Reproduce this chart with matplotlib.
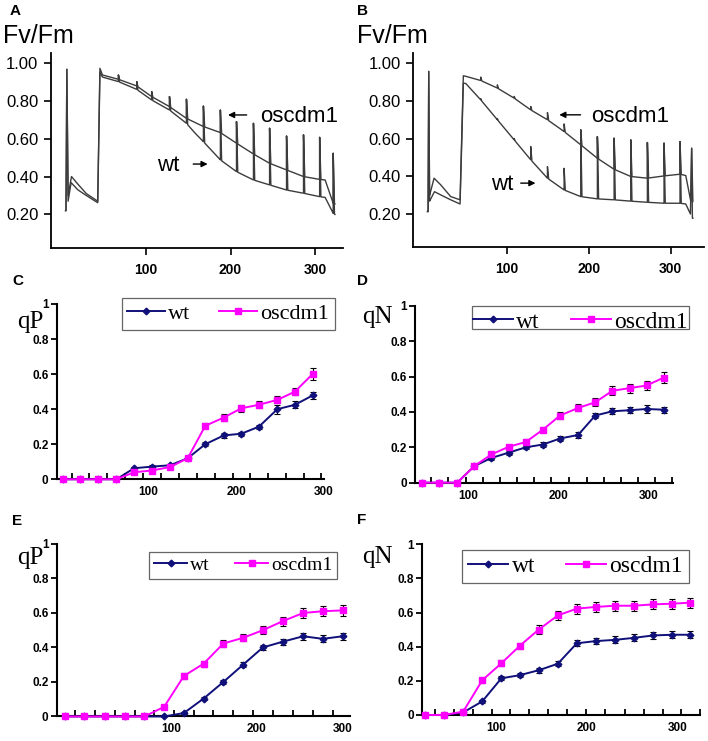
import numpy as np
import matplotlib
matplotlib.use('Agg')
import matplotlib.pyplot as plt
from matplotlib.ticker import FixedLocator

plt.rcParams['font.family'] = ['Liberation Sans', 'DejaVu Sans']
SERIF = ['Liberation Serif', 'DejaVu Serif']
NAVY = '#10107a'
MAG = '#ff00ff'
TRACE = '#3c3c3c'

# ---- Fv/Fm traces, panel A (time, value) ----
a_osc_t = [6, 8.5, 12.5, 20, 30, 43.4, 46, 49, 67.8, 89.4, 107, 128, 148, 168, 188, 207, 227, 246, 266, 286, 305, 311.5, 321, 323]
a_osc_v = [0.22, 0.30, 0.40, 0.36, 0.31, 0.27, 0.971, 0.936, 0.913, 0.878, 0.822, 0.769, 0.707, 0.664, 0.632, 0.576, 0.519, 0.470, 0.435, 0.400, 0.385, 0.382, 0.259, 0.255]
a_wt_t = [6, 8.5, 12, 20, 30, 43.4, 46, 49, 67.8, 89.4, 107, 128, 148, 158, 168, 188, 207, 227, 246, 266, 286, 305, 311.5, 321, 323]
a_wt_v = [0.22, 0.27, 0.368, 0.33, 0.30, 0.262, 0.95, 0.925, 0.901, 0.860, 0.804, 0.751, 0.681, 0.63, 0.584, 0.488, 0.426, 0.382, 0.356, 0.329, 0.312, 0.294, 0.290, 0.206, 0.20]
a_spike_t = [7, 67.8, 89.4, 107, 128, 148, 168, 188, 207, 227, 246, 266, 286, 305, 321]
a_spike_v = [0.966, 0.936, 0.901, 0.848, 0.822, 0.808, 0.772, 0.751, 0.690, 0.681, 0.655, 0.614, 0.620, 0.607, 0.523]

# ---- panel B ----
b_osc_t = [4, 5.8, 11.3, 19.4, 31.6, 43, 47, 50, 68.2, 88.5, 109, 129.2, 149.6, 169.9, 190.2, 210.5, 230.9, 251.2, 271.5, 291.8, 311.3, 318.3, 324.4, 327]
b_osc_v = [0.215, 0.30, 0.391, 0.356, 0.294, 0.277, 0.931, 0.928, 0.906, 0.866, 0.813, 0.751, 0.699, 0.637, 0.567, 0.496, 0.438, 0.400, 0.391, 0.403, 0.412, 0.405, 0.27, 0.268]
b_wt_t = [4, 5.8, 11.8, 19.4, 31.6, 43, 47, 50, 68.2, 88.5, 109, 129.2, 149.6, 169.9, 190.2, 210.5, 230.9, 251.2, 271.5, 291.8, 311.3, 318.3, 326.4]
b_wt_v = [0.215, 0.27, 0.320, 0.303, 0.277, 0.255, 0.892, 0.89, 0.804, 0.699, 0.593, 0.488, 0.391, 0.329, 0.294, 0.282, 0.277, 0.270, 0.264, 0.259, 0.259, 0.255, 0.180]
b_spike_t = [4.8, 68.2, 88.5, 109, 129.2, 149.6, 169.9, 190.2, 210.5, 230.9, 251.2, 271.5, 291.8, 311.3, 325.5]
b_osc_spike_v = [0.954, 0.924, 0.883, 0.822, 0.769, 0.737, 0.677, 0.646, 0.61, 0.602, 0.593, 0.579, 0.576, 0.584, 0.549]
b_wt_spike_v = [0.954, 0.81, 0.705, 0.60, 0.558, 0.452, 0.443, 0.646, 0.61, 0.602, 0.593, 0.579, 0.576, 0.584, 0.549]

# ---- qP / qN curves ----
c_x = [3, 23, 43, 64, 84, 104, 125, 145, 165, 186, 206, 226, 247, 267, 287]
c_wt = [0, 0, 0, 0, 0.063, 0.072, 0.08, 0.12, 0.20, 0.25, 0.26, 0.30, 0.40, 0.425, 0.478]
c_wt_err = [0, 0, 0, 0, 0.008, 0.008, 0.008, 0.01, 0.01, 0.012, 0.012, 0.012, 0.025, 0.02, 0.022]
c_osc = [0, 0, 0, 0, 0.04, 0.05, 0.07, 0.12, 0.305, 0.352, 0.405, 0.425, 0.453, 0.50, 0.60]
c_osc_err = [0, 0, 0, 0, 0.008, 0.008, 0.008, 0.01, 0.015, 0.018, 0.02, 0.02, 0.02, 0.022, 0.032]

d_x = [49, 68, 88, 107, 126, 145, 164, 183, 202, 222, 241, 260, 279, 298, 317]
d_wt = [0, 0, 0, 0.094, 0.14, 0.17, 0.20, 0.216, 0.25, 0.27, 0.38, 0.404, 0.41, 0.417, 0.413]
d_wt_err = [0, 0, 0, 0.01, 0.01, 0.012, 0.012, 0.012, 0.012, 0.015, 0.015, 0.018, 0.018, 0.022, 0.018]
d_osc = [0, 0, 0, 0.094, 0.16, 0.203, 0.23, 0.30, 0.38, 0.423, 0.455, 0.52, 0.535, 0.55, 0.595]
d_osc_err = [0, 0, 0, 0.01, 0.012, 0.012, 0.015, 0.015, 0.02, 0.02, 0.022, 0.025, 0.025, 0.028, 0.03]

e_x = [-24, -1, 23, 46, 69, 92, 115, 138, 161, 184, 207, 230, 254, 277, 300]
e_wt = [0, 0, 0, 0, 0, 0, 0.02, 0.104, 0.20, 0.30, 0.40, 0.433, 0.465, 0.45, 0.465]
e_wt_err = [0, 0, 0, 0, 0, 0, 0.008, 0.01, 0.012, 0.015, 0.015, 0.018, 0.02, 0.02, 0.02]
e_osc = [0, 0, 0, 0, 0, 0.056, 0.235, 0.306, 0.423, 0.456, 0.50, 0.552, 0.60, 0.61, 0.615]
e_osc_err = [0, 0, 0, 0, 0, 0.01, 0.015, 0.018, 0.018, 0.02, 0.022, 0.025, 0.028, 0.028, 0.03]

f_x = [22, 43, 64, 85, 106, 126, 147, 168, 189, 210, 231, 252, 273, 294, 314]
f_wt = [0, 0, 0.015, 0.08, 0.215, 0.233, 0.262, 0.30, 0.42, 0.433, 0.44, 0.452, 0.466, 0.47, 0.47]
f_wt_err = [0, 0, 0.005, 0.01, 0.012, 0.012, 0.015, 0.015, 0.018, 0.02, 0.02, 0.02, 0.02, 0.02, 0.02]
f_osc = [0, 0, 0.02, 0.204, 0.303, 0.404, 0.50, 0.583, 0.623, 0.633, 0.64, 0.64, 0.648, 0.652, 0.658]
f_osc_err = [0, 0, 0.005, 0.015, 0.018, 0.02, 0.025, 0.028, 0.03, 0.03, 0.03, 0.03, 0.03, 0.03, 0.03]

fv_ticks = [0.2, 0.4, 0.6, 0.8, 1.0]
q_ticks = [0, 0.2, 0.4, 0.6, 0.8, 1.0]
q_ticklabels = ['0', '0.2', '0.4', '0.6', '0.8', '1']
x_labels = [100, 200, 300]

fig = plt.figure(figsize=(7.08, 7.41), dpi=100)


def trace(t, v, st, sv, hw=1.5):
    # baseline plus a narrow spike at every saturating pulse
    t = np.asarray(t, float)
    v = np.asarray(v, float)
    pts = list(zip(t, v))
    for ts, vs in zip(st, sv):
        pts += [(ts - hw, np.interp(ts - hw, t, v)), (ts, vs),
                (ts + hw, np.interp(ts + hw, t, v))]
    pts.sort(key=lambda p: p[0])
    return np.array(pts).T


def fv_panel(rect, xlim, ylim, traces, lab_xy):
    ax = fig.add_axes(rect)
    for tx, ty in traces:
        ax.plot(tx, ty, color=TRACE, lw=1.0)
    ax.set_xlim(*xlim)
    ax.set_ylim(*ylim)
    ax.spines[['top', 'right']].set_visible(False)
    ax.spines[['left', 'bottom']].set_linewidth(1.3)
    ax.set_yticks(fv_ticks)
    ax.set_yticklabels(['%.2f' % t for t in fv_ticks], fontsize=12)
    ax.set_xticks(x_labels)
    ax.set_xticklabels([str(t) for t in x_labels], fontsize=10, fontweight='bold')
    ax.tick_params(axis='y', length=5, width=1.2, pad=4)
    ax.tick_params(axis='x', length=5, width=1.2, pad=6)
    ax.set_ylabel('Fv/Fm', rotation=0, fontsize=18, ha='left', va='baseline')
    ax.yaxis.set_label_coords(*lab_xy)
    return ax


def arrow(ax, text, tx, ty, x0, x1, y):
    ax.text(tx, ty, text, fontsize=16, ha='left', va='center')
    ax.annotate('', xy=(x1, y), xytext=(x0, y),
                arrowprops=dict(arrowstyle='-|>', color='black', lw=1.0,
                                mutation_scale=9, shrinkA=0, shrinkB=0))


ax = fv_panel([0.0720, 0.6653, 0.4124, 0.2632], (-11.7, 332.5), (0.023, 1.052),
              [trace(a_osc_t, a_osc_v, a_spike_t, a_spike_v),
               trace(a_wt_t, a_wt_v, a_spike_t, a_spike_v)], (-0.164, 1.051))
arrow(ax, 'oscdm1', 235, 0.715, 219, 197, 0.725)
arrow(ax, 'wt', 113, 0.457, 156, 173, 0.466)

ax = fv_panel([0.5838, 0.6671, 0.4106, 0.2614], (-14, 340.6), (0.030, 1.051),
              [trace(b_osc_t, b_osc_v, b_spike_t, b_osc_spike_v),
               trace(b_wt_t, b_wt_v, b_spike_t, b_wt_spike_v)], (-0.194, 1.052))
arrow(ax, 'oscdm1', 203, 0.715, 190, 164, 0.725)
arrow(ax, 'wt', 80.5, 0.356, 117, 135, 0.365)


def q_panel(rect, x, wt, wt_e, osc, osc_e, xlim, ylab, lab_xy, leg_xy, leg_fs,
            pad=0.25):
    ax = fig.add_axes(rect)
    l1 = ax.errorbar(x, wt, yerr=wt_e, color=NAVY, marker='D', ms=3.4, lw=1.4,
                     ecolor='black', elinewidth=0.8, capsize=2.4, capthick=0.8,
                     zorder=3, clip_on=False)
    l2 = ax.errorbar(x, osc, yerr=osc_e, color=MAG, marker='s', ms=4.2, lw=1.4,
                     ecolor='black', elinewidth=0.8, capsize=2.4, capthick=0.8,
                     zorder=4, clip_on=False)
    ax.set_xlim(*xlim)
    ax.set_ylim(0, 1)
    ax.spines[['top', 'right']].set_visible(False)
    ax.spines[['left', 'bottom']].set_linewidth(1.5)
    ax.set_yticks(q_ticks)
    ax.set_yticklabels(q_ticklabels, fontsize=8.5, fontweight='bold')
    ax.tick_params(axis='y', length=4, width=1.3, pad=2)
    ax.set_xticks(x_labels)
    ax.set_xticklabels([str(t) for t in x_labels], fontsize=8.5, fontweight='bold')
    ax.tick_params(axis='x', which='major', length=0, pad=5)
    xs = np.asarray(x, float)
    mids = list((xs[:-1] + xs[1:]) / 2)
    end = xs[-1] + (xs[-1] - xs[-2]) / 2
    if end < xlim[1]:
        mids.append(end)
    ax.xaxis.set_minor_locator(FixedLocator(mids))
    ax.tick_params(axis='x', which='minor', direction='in', length=4, width=1.3)
    ax.set_ylabel(ylab, rotation=0, fontsize=18, family=SERIF, ha='left', va='baseline')
    ax.yaxis.set_label_coords(*lab_xy)
    leg = ax.legend(handles=[l1[0], l2[0]], labels=['wt', 'oscdm1'], loc='upper right',
                    bbox_to_anchor=leg_xy, bbox_transform=ax.transAxes, borderaxespad=0,
                    ncol=2, prop={'family': SERIF, 'size': leg_fs}, frameon=True,
                    fancybox=False, edgecolor='#666666', framealpha=1,
                    handlelength=1.7, handletextpad=0.15, columnspacing=1.3,
                    borderpad=pad)
    leg.get_frame().set_linewidth(0.9)
    return leg


q_panel([0.0801, 0.3532, 0.3775, 0.2366], c_x, c_wt, c_wt_err, c_osc, c_osc_err,
        (-4, 299), 'qP', (-0.149, 0.863), (1.041, 1.034), 16)
leg_d = q_panel([0.5862, 0.3486, 0.3648, 0.2385], d_x, d_wt, d_wt_err, d_osc, d_osc_err,
                (41.3, 327.5), 'qN', (-0.205, 0.904), (1.061, 1.002), 17, pad=0.05)
q_panel([0.0801, 0.0331, 0.4143, 0.2328], e_x, e_wt, e_wt_err, e_osc, e_osc_err,
        (-33.3, 308.7), 'qP', (-0.135, 0.884), (0.956, 0.955), 14)
q_panel([0.5965, 0.0351, 0.3922, 0.2304], f_x, f_wt, f_wt_err, f_osc, f_osc_err,
        (19, 324.5), 'qN', (-0.217, 0.889), (0.960, 0.967), 17)

for letter, px, py in [('A', 10, 15), ('B', 357, 15), ('C', 12, 285),
                       ('D', 357, 285), ('E', 12, 525), ('F', 357, 524)]:
    fig.text(px / 708, 1 - py / 741, letter, fontsize=11, fontweight='bold', va='baseline')

# in panel D the key box cuts off the lower part of its labels
fig.canvas.draw()
frame_box = leg_d.get_frame().get_window_extent()
for txt in leg_d.get_texts():
    txt.set_y(-5)
    txt.set_clip_on(True)
    txt.set_clip_box(frame_box)
for h in leg_d.legend_handles:
    h.set_ydata(np.asarray(h.get_ydata()) - 3)

fig.savefig('out.png', dpi=100)
